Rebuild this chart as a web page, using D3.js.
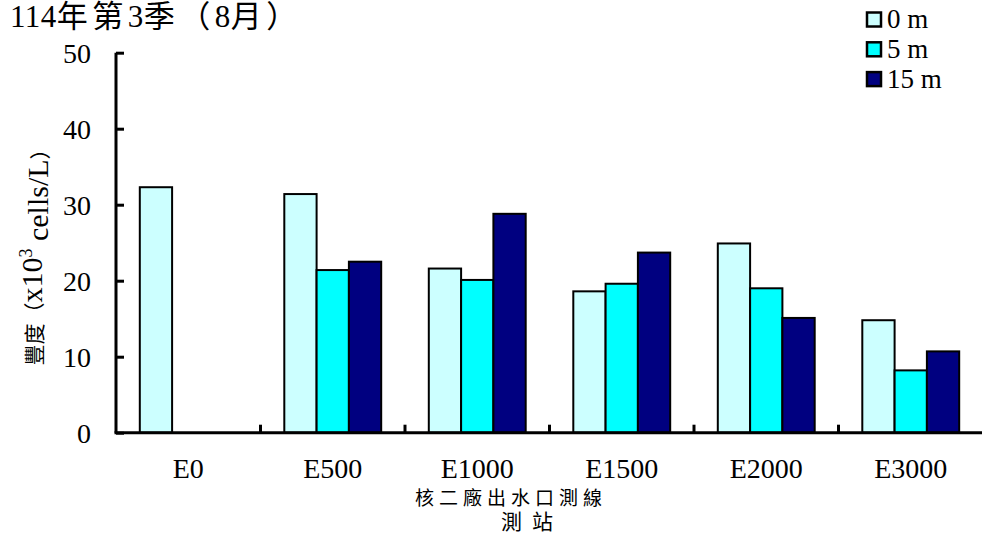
<!DOCTYPE html>
<html>
<head>
<meta charset="utf-8">
<script src="https://cdn.jsdelivr.net/npm/d3@7"></script>
<style>
  html, body { margin: 0; padding: 0; background: #fff; }
  svg { display: block; }
  text { font-family: "Liberation Serif", "Times New Roman", "Noto Sans CJK TC", serif; fill: #000; }
  .cjk { font-family: "Noto Sans CJK TC", sans-serif; }
</style>
</head>
<body>
<script>
const categories = ["E0", "E500", "E1000", "E1500", "E2000", "E3000"];
const seriesNames = ["0 m", "5 m", "15 m"];
const values0m = [32.3, 31.4, 21.6, 18.6, 24.9, 14.8];
const values5m = [null, 21.4, 20.1, 19.6, 19.0, 8.2];
const values15m = [null, 22.5, 28.8, 23.7, 15.1, 10.7];
const yTicks = [0, 10, 20, 30, 40, 50];
const colors = ["#CCFFFF", "#00FFFF", "#000080"];
const xTitle1 = "核二廠出水口測線";
const xTitle2 = "測站";

const W = 982, H = 536;
const svg = d3.select("body").append("svg").attr("width", W).attr("height", H);

const seriesVals = [values0m, values5m, values15m];

const x0 = d3.scaleBand().domain(categories).range([116, 983]).paddingInner(0).paddingOuter(0);
const x1 = d3.scaleBand().domain(seriesNames).range([0, x0.bandwidth()]).paddingInner(0).paddingOuter(0.737);
const y = d3.scaleLinear().domain([0, 50]).range([432.7, 52.7]);

// bars
const groups = svg.append("g").selectAll("g").data(categories).join("g")
  .attr("transform", d => `translate(${x0(d)},0)`);
groups.selectAll("rect")
  .data((c, i) => seriesNames.map((s, j) => ({ s, j, v: seriesVals[j][i] })).filter(d => d.v != null))
  .join("rect")
  .attr("x", d => x1(d.s))
  .attr("width", x1.bandwidth())
  .attr("y", d => y(d.v))
  .attr("height", d => y(0) - y(d.v))
  .attr("fill", d => colors[d.j])
  .attr("stroke", "#000")
  .attr("stroke-width", 2);

// y axis
const yAxis = d3.axisRight(y).tickValues(yTicks).tickSize(8).tickFormat("");
const gy = svg.append("g").attr("transform", "translate(116,0)").call(yAxis);
gy.select(".domain").attr("d", `M0,${y(50)}V${y(0)}`).attr("stroke-width", 3).attr("stroke", "#000");
gy.selectAll(".tick line").attr("stroke-width", 3).attr("stroke", "#000");

svg.append("g").selectAll("text").data(yTicks).join("text")
  .attr("x", 91).attr("y", d => y(d)).attr("dy", "0.35em")
  .attr("text-anchor", "end").attr("font-size", 28).text(d => d);

// x axis
const xAxisY = y(0);
svg.append("line").attr("x1", 114.5).attr("x2", 983).attr("y1", xAxisY).attr("y2", xAxisY)
  .attr("stroke", "#000").attr("stroke-width", 3);
svg.append("g").selectAll("line").data(categories.slice(1)).join("line")
  .attr("x1", d => x0(d)).attr("x2", d => x0(d))
  .attr("y1", xAxisY).attr("y2", xAxisY - 8)
  .attr("stroke", "#000").attr("stroke-width", 3);
svg.append("g").selectAll("text").data(categories).join("text")
  .attr("x", d => x0(d) + x0.bandwidth() / 2).attr("y", 468).attr("dy", "0.35em")
  .attr("text-anchor", "middle").attr("font-size", 28).text(d => d);

// axis titles
svg.append("text").attr("class", "cjk").attr("x", 511).attr("y", 498).attr("dy", "0.35em")
  .attr("text-anchor", "middle").attr("font-size", 19).attr("letter-spacing", 5)
  .text(xTitle1);
svg.append("text").attr("class", "cjk").attr("x", 532).attr("y", 522).attr("dy", "0.35em")
  .attr("text-anchor", "middle").attr("font-size", 21).attr("letter-spacing", 10)
  .text(xTitle2);

const yl = svg.append("text").attr("transform", "translate(31,252) rotate(-90)")
  .attr("text-anchor", "middle").attr("dy", "0.35em").attr("font-size", 30);
yl.append("tspan").attr("class", "cjk").attr("font-size", 21).text("豐度（");
yl.append("tspan").text("x10");
yl.append("tspan").attr("font-size", 18).attr("dy", "-0.55em").text("3");
yl.append("tspan").attr("dy", "0.55em").text(" cells/L");
yl.append("tspan").attr("class", "cjk").attr("font-size", 21).text("）");

// title
const titleParts = [["114", false], ["年第", true], ["3", false], ["季（", true], ["8", false], ["月）", true]];
const t = svg.append("text").attr("x", 10).attr("y", 27).attr("font-size", 31);
t.selectAll("tspan").data(titleParts).join("tspan")
  .attr("class", d => d[1] ? "cjk" : null)
  .attr("letter-spacing", d => d[1] ? 4.5 : 0.5)
  .text(d => d[0]);

// legend
const lg = svg.append("g").selectAll("g").data(seriesNames).join("g")
  .attr("transform", (d, i) => `translate(867,${19.5 + i * 29.8})`);
lg.append("rect").attr("x", 0).attr("y", -7).attr("width", 14).attr("height", 14)
  .attr("fill", (d, i) => colors[i]).attr("stroke", "#000").attr("stroke-width", 2.5);
lg.append("text").attr("x", 20).attr("y", 0).attr("dy", "0.33em").attr("font-size", 27).text(d => d);
</script>
</body>
</html>
